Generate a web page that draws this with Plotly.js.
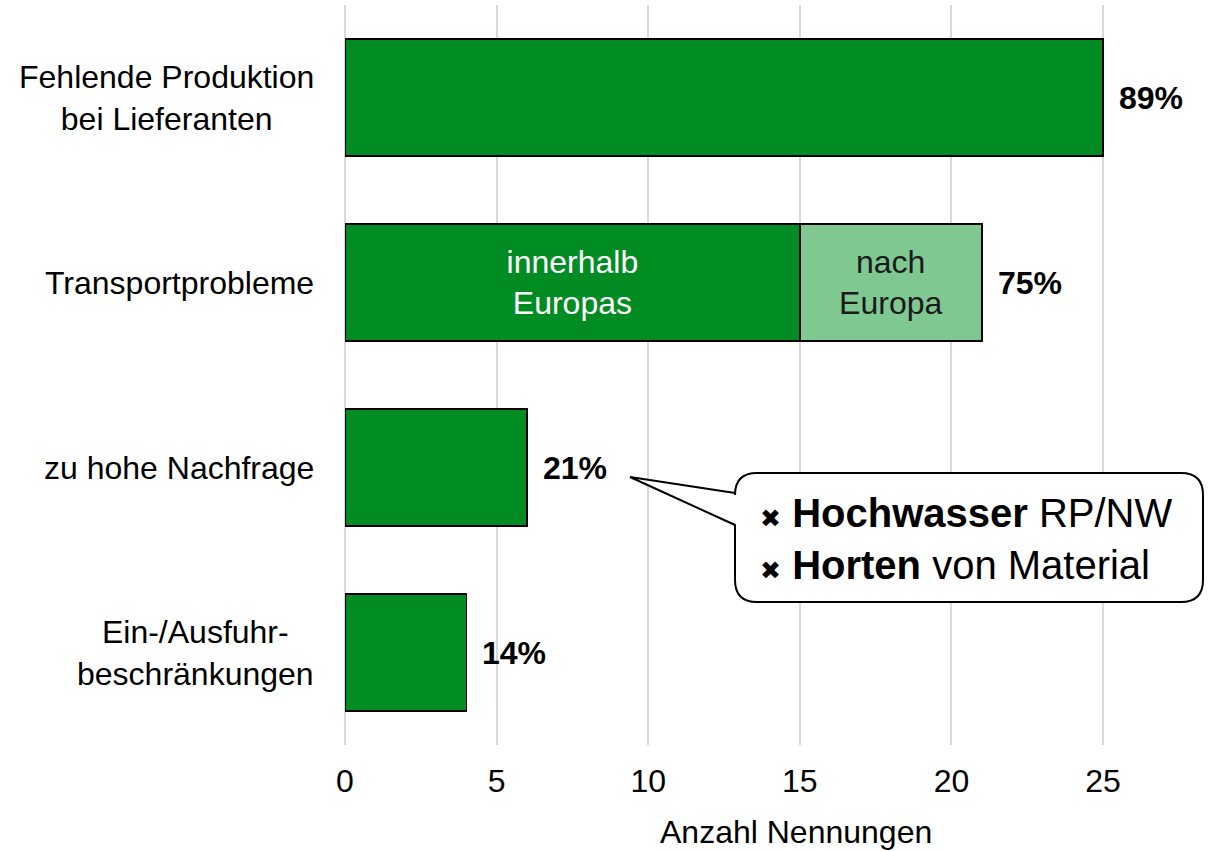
<!DOCTYPE html>
<html>
<head>
<meta charset="utf-8">
<script src="https://cdn.plot.ly/plotly-3.0.1.min.js"></script>
<style>
  body { margin: 0; background: #fff; }
  #chart { width: 1209px; height: 851px; }
</style>
</head>
<body>
<div id="chart"></div>
<script>
// Kategorien (von oben nach unten)
var categories = ['Fehlende Produktion<br>bei Lieferanten', 'Transportprobleme', 'zu hohe Nachfrage', 'Ein-/Ausfuhr-<br>beschränkungen'];
// Anzahl Nennungen, innerhalb Europas bzw. Hauptwert
var valuesMain = [25, 15, 6, 4];
// Zusatzanteil "nach Europa" (nur Transport)
var valuesExtra = [null, 6, null, null];
var textMain = ['', 'innerhalb<br>Europas', '', ''];
var textExtra = ['', 'nach<br>Europa', '', ''];
var percentLabels = ['89%', '75%', '21%', '14%'];
var tickVals = [0, 5, 10, 15, 20, 25];
var xTitle = 'Anzahl Nennungen';
var calloutLines = ['<b>Hochwasser</b> RP/NW', '<b>Horten</b> von Material'];

var FONT = 'Liberation Sans, Arial, sans-serif';
var W = 1209, H = 851;
var M = {l: 345, r: 15, t: 5, b: 106};
var plotW = W - M.l - M.r, plotH = H - M.t - M.b;

// Pixel -> Paper Koordinaten
function px(x) { return (x - M.l) / plotW; }
function py(y) { return (H - M.b - y) / plotH; }

var traceMain = {
  type: 'bar', orientation: 'h',
  y: categories, x: valuesMain,
  width: 0.63,
  marker: {color: '#008C23', line: {color: '#000', width: 1.5}},
  text: textMain, textposition: 'inside', insidetextanchor: 'middle',
  textfont: {family: FONT, size: 32, color: '#fff'},
  constraintext: 'none',
  hoverinfo: 'none'
};
var traceExtra = {
  type: 'bar', orientation: 'h',
  y: categories, x: valuesExtra,
  width: 0.63,
  marker: {color: '#80C892', line: {color: '#000', width: 1.5}},
  text: textExtra, textposition: 'inside', insidetextanchor: 'middle',
  textfont: {family: FONT, size: 32, color: '#1a1a1a'},
  constraintext: 'none',
  hoverinfo: 'none'
};

var annotations = [];
// Prozentangaben hinter den Balken
categories.forEach(function (c, i) {
  var total = (valuesMain[i] || 0) + (valuesExtra[i] || 0);
  annotations.push({
    x: total, y: c, xref: 'x', yref: 'y',
    text: '<b>' + percentLabels[i] + '</b>', showarrow: false,
    xanchor: 'left', xshift: 14,
    font: {family: FONT, size: 32, color: '#000'}
  });
  // Kategorienbeschriftung (zentriert, rechtsbündig an der Achse)
  annotations.push({
    x: px(316), y: c, xref: 'paper', yref: 'y',
    text: c, showarrow: false, xanchor: 'right', align: 'center',
    font: {family: FONT, size: 32, color: '#000'}
  });
});

// Achsentitel
annotations.push({
  x: px(796), y: py(832), xref: 'paper', yref: 'paper',
  text: xTitle, showarrow: false, xanchor: 'center', yanchor: 'middle',
  font: {family: FONT, size: 32, color: '#000'}
});

// Sprechblasen-Text
annotations.push({
  x: px(758), y: py(539), xref: 'paper', yref: 'paper',
  text: calloutLines.map(function (t) {
    return '<span style="font-size:25px">✖</span> ' + t;
  }).join('<br>'),
  showarrow: false, xanchor: 'left', yanchor: 'middle', align: 'left',
  font: {family: FONT, size: 40, color: '#000'}
});

// Sprechblase als Pfad
var L = 735, R = 1203, T = 473, B = 602, r = 22;
function P(x, y) { return px(x) + ',' + py(y); }
var calloutPath = 'M' + P(L, 493) + ' L' + P(630, 477) + ' L' + P(L, 525) +
  ' L' + P(L, B - r) + ' Q' + P(L, B) + ' ' + P(L + r, B) +
  ' L' + P(R - r, B) + ' Q' + P(R, B) + ' ' + P(R, B - r) +
  ' L' + P(R, T + r) + ' Q' + P(R, T) + ' ' + P(R - r, T) +
  ' L' + P(L + r, T) + ' Q' + P(L, T) + ' ' + P(L, T + r) + ' Z';

var layout = {
  width: W, height: H,
  margin: M,
  barmode: 'stack',
  showlegend: false,
  paper_bgcolor: '#fff', plot_bgcolor: '#fff',
  font: {family: FONT, size: 32, color: '#000'},
  xaxis: {
    range: [0, 28],
    tickvals: tickVals,
    showgrid: true, gridcolor: '#d9d9d9', gridwidth: 2,
    zeroline: true, zerolinecolor: '#d9d9d9', zerolinewidth: 2,
    showline: false, ticks: '',
    ticklabelstandoff: 14,
    tickfont: {family: FONT, size: 32, color: '#000'}
  },
  yaxis: {
    type: 'category', autorange: 'reversed',
    showticklabels: false, showgrid: false, zeroline: false, ticks: ''
  },
  annotations: annotations,
  shapes: [{
    type: 'path', xref: 'paper', yref: 'paper', path: calloutPath,
    fillcolor: '#fff', line: {color: '#000', width: 2}
  }]
};

Plotly.newPlot('chart', [traceMain, traceExtra], layout, {staticPlot: true});
</script>
</body>
</html>
